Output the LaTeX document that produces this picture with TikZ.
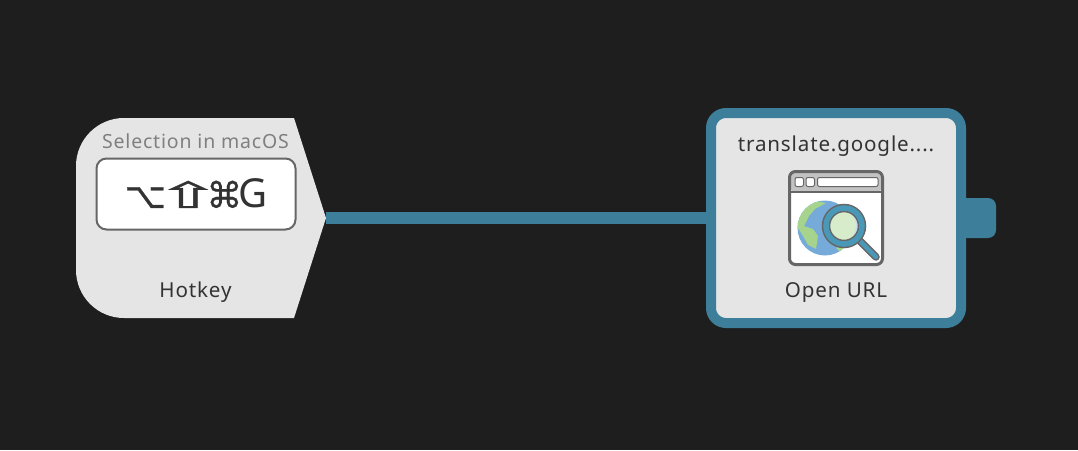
\documentclass[tikz,border=0pt]{standalone}
\usepackage{fontspec}
\setmainfont{Noto Sans}[LetterSpace=4.1]
\newfontfamily\symfont{DejaVu Sans}[FakeBold=0.6]
\newfontfamily\keyfont{Noto Sans}
\usepackage{xcolor}
\definecolor{canvas}{RGB}{30,30,30}
\definecolor{panel}{RGB}{229,229,229}
\definecolor{wire}{RGB}{61,127,155}
\definecolor{ink}{RGB}{51,51,51}
\definecolor{edge}{RGB}{102,102,102}
\definecolor{globe}{RGB}{118,170,216}
\definecolor{land}{RGB}{166,212,140}
\definecolor{lens}{RGB}{74,152,184}

\begin{document}
\begin{tikzpicture}[
      x=1pt,y=-1pt,
      caption/.style={inner sep=0pt,text height=15pt,text depth=5pt,text=ink,font=\fontsize{20.6}{24}\selectfont},
      faded/.style={caption,text=black!50,font=\fontsize{19.5}{24}\selectfont},
      keybox/.style={rectangle,draw=edge,fill=white,line width=2pt,rounded corners=10pt,minimum width=199pt,minimum height=71pt,inner sep=0pt,text=ink,font=\fontsize{36}{40}\selectfont},
      actionbox/.style={rectangle,draw=wire,fill=panel,line width=10pt,rounded corners=15pt,minimum width=250pt,minimum height=210pt},
      portbox/.style={rectangle,fill=wire,rounded corners=8pt,minimum width=50pt,minimum height=40pt},
      icon/.style={line width=3pt,draw=edge,rounded corners=6pt},
      tab/.style={draw=edge,fill=white,line width=1pt,rounded corners=2pt}]

      \useasboundingbox (0,0) rectangle (1078,450);
      \fill[canvas] (0,0) rectangle (1078,450);

      % Define nodes
      \fill[panel] (124,318) .. controls (97.5,318) and (76,296.5) .. (76,270) -- (76,166) .. controls (76,139.5) and (97.5,118) .. (124,118) -- (294,118) -- (326,218) -- (294,318) -- cycle;
      \coordinate (tip) at (326,218);
      \node[keybox] (key) at (196,194) {\raisebox{1pt}{{\symfont ⌥\kern-11pt\scalebox{2.2}[1]{⇧}\kern-15pt ⌘}\kern-4pt{\keyfont\fontsize{40}{40}\selectfont G}}};
      \node[faded] (selection) at (195.5,143) {Selection in macOS};
      \node[caption] (hotkey) at (195.5,292) {Hotkey};
      \node[portbox] (port) at (971,218) {};
      \node[actionbox] (action) at (836,218) {};
      \node[caption] (url) at (836,146) {translate.google....};
      \node[caption] (open) at (836,292) {Open URL};

      % Draw paths
      \draw[wire,line width=12pt] (tip) -- (action.west);

      % Icon
      \fill[white,rounded corners=6pt] (789.5,171.5) rectangle (882.5,264.5);
      \fill[black!24,rounded corners=6pt] (789.5,171.5) rectangle (882.5,192);
      \begin{scope}
        \clip (825,228) circle (27.5);
        \fill[globe] (825,228) circle (27.5);
        \fill[land] (796,225) -- (803,208) -- (816,201) -- (826,203) -- (815,209) -- (809,216) -- (804,226) -- (813,229) -- (818,236) -- (816,249) -- (808,245) -- (803,236) -- cycle;
        \fill[land] (836,248) -- (845,244) -- (842,254) -- cycle;
      \end{scope}
      \fill[land!45!white] (844,226) circle (15);
      \fill[globe!40!white] (850,212) .. controls (858,220) and (858,232) .. (850,240) -- (856,240) -- (860,226) -- (856,212) -- cycle;
      \draw[edge,line width=7.5pt,line cap=round] (860,241) -- (876,257);
      \draw[lens,line width=4.5pt,line cap=round] (860,241) -- (876,257);
      \draw[edge,line width=8.5pt] (844,226) circle (18);
      \draw[lens,line width=5.5pt] (844,226) circle (18);
      \draw[icon] (789.5,171.5) rectangle (882.5,264.5);
      \draw[edge,line width=2pt] (789.5,192) -- (882.5,192);
      \draw[tab] (795,177.5) rectangle (803.5,186.5);
      \draw[tab] (806,177.5) rectangle (814.5,186.5);
      \draw[tab] (817.5,177.5) rectangle (878,186.5);
\end{tikzpicture}
\end{document}
